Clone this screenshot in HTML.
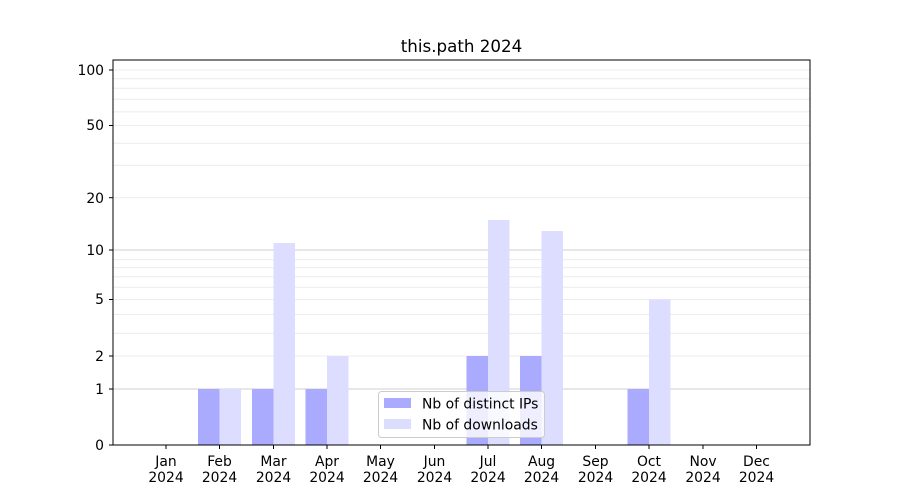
<!DOCTYPE html>
<html><head><meta charset="utf-8"><style>
html,body{margin:0;padding:0;background:#fff;}
svg{display:block;font-family:"DejaVu Sans","Liberation Sans",sans-serif;}
</style></head><body>
<svg width="900" height="500" viewBox="0 0 900 500" xmlns="http://www.w3.org/2000/svg">
<rect width="900" height="500" fill="#fff"/>
<g stroke-width="1">
<g stroke="#ececec">
<line x1="113" x2="810" y1="333.4" y2="333.4"/>
<line x1="113" x2="810" y1="314.5" y2="314.5"/>
<line x1="113" x2="810" y1="299.5" y2="299.5"/>
<line x1="113" x2="810" y1="287.3" y2="287.3"/>
<line x1="113" x2="810" y1="276.8" y2="276.8"/>
<line x1="113" x2="810" y1="267.6" y2="267.6"/>
<line x1="113" x2="810" y1="259.6" y2="259.6"/>
<line x1="113" x2="810" y1="197.7" y2="197.7"/>
<line x1="113" x2="810" y1="165.4" y2="165.4"/>
<line x1="113" x2="810" y1="143.2" y2="143.2"/>
<line x1="113" x2="810" y1="125.5" y2="125.5"/>
<line x1="113" x2="810" y1="111.9" y2="111.9"/>
<line x1="113" x2="810" y1="99.3" y2="99.3"/>
<line x1="113" x2="810" y1="88.3" y2="88.3"/>
<line x1="113" x2="810" y1="78.7" y2="78.7"/>
<line x1="113" x2="810" y1="356" y2="356"/>
<line x1="113" x2="810" y1="70" y2="70"/>
</g>
<g stroke="#cfcfcf">
<line x1="113" x2="810" y1="389" y2="389"/>
<line x1="113" x2="810" y1="250" y2="250"/>
</g>
</g>
<g fill="#aaaaff">
<rect x="198" y="389" width="21.5" height="56"/>
<rect x="252" y="389" width="21.5" height="56"/>
<rect x="305.5" y="389" width="21.5" height="56"/>
<rect x="466.5" y="356" width="21.5" height="89"/>
<rect x="520" y="356" width="21.5" height="89"/>
<rect x="627.5" y="389" width="21.5" height="56"/>
</g>
<g fill="#ddddff">
<rect x="219.5" y="389" width="21.5" height="56"/>
<rect x="273.5" y="243" width="21.5" height="202"/>
<rect x="327" y="356" width="21.5" height="89"/>
<rect x="488" y="220" width="21.5" height="225"/>
<rect x="541.5" y="231" width="21.5" height="214"/>
<rect x="649" y="299.5" width="21.5" height="145.5"/>
</g>
<rect x="113" y="60" width="697" height="385" fill="none" stroke="#000" stroke-width="1"/>
<g stroke="#000">
<line x1="109" x2="113" y1="445" y2="445"/>
<line x1="109" x2="113" y1="389" y2="389"/>
<line x1="109" x2="113" y1="356" y2="356"/>
<line x1="109" x2="113" y1="299.5" y2="299.5"/>
<line x1="109" x2="113" y1="250" y2="250"/>
<line x1="109" x2="113" y1="197.7" y2="197.7"/>
<line x1="109" x2="113" y1="125.5" y2="125.5"/>
<line x1="109" x2="113" y1="70" y2="70"/>
</g>
<g font-size="13.9" text-anchor="end" fill="#000">
<text x="104" y="450">0</text>
<text x="104" y="394">1</text>
<text x="104" y="361">2</text>
<text x="104" y="304">5</text>
<text x="104" y="255">10</text>
<text x="104" y="203">20</text>
<text x="104" y="130">50</text>
<text x="104" y="75">100</text>
</g>
<g stroke="#000">
<line x1="166" x2="166" y1="445" y2="449"/><line x1="219.5" x2="219.5" y1="445" y2="449"/>
<line x1="273.5" x2="273.5" y1="445" y2="449"/><line x1="327" x2="327" y1="445" y2="449"/>
<line x1="380.5" x2="380.5" y1="445" y2="449"/><line x1="434.5" x2="434.5" y1="445" y2="449"/>
<line x1="488" x2="488" y1="445" y2="449"/><line x1="541.5" x2="541.5" y1="445" y2="449"/>
<line x1="595.5" x2="595.5" y1="445" y2="449"/><line x1="649" x2="649" y1="445" y2="449"/>
<line x1="703" x2="703" y1="445" y2="449"/><line x1="756.5" x2="756.5" y1="445" y2="449"/>
</g>
<g font-size="13.9" text-anchor="middle" fill="#000">
<text x="166" y="466">Jan</text><text x="166" y="482">2024</text>
<text x="219.5" y="466">Feb</text><text x="219.5" y="482">2024</text>
<text x="273.5" y="466">Mar</text><text x="273.5" y="482">2024</text>
<text x="327" y="466">Apr</text><text x="327" y="482">2024</text>
<text x="380.5" y="466">May</text><text x="380.5" y="482">2024</text>
<text x="434.5" y="466">Jun</text><text x="434.5" y="482">2024</text>
<text x="488" y="466">Jul</text><text x="488" y="482">2024</text>
<text x="541.5" y="466">Aug</text><text x="541.5" y="482">2024</text>
<text x="595.5" y="466">Sep</text><text x="595.5" y="482">2024</text>
<text x="649" y="466">Oct</text><text x="649" y="482">2024</text>
<text x="703" y="466">Nov</text><text x="703" y="482">2024</text>
<text x="756.5" y="466">Dec</text><text x="756.5" y="482">2024</text>
</g>
<text x="461.5" y="52" font-size="16.7" text-anchor="middle">this.path 2024</text>
<rect x="378.5" y="391.5" width="166" height="46" rx="3" fill="#fff" fill-opacity="0.8" stroke="#ccc"/>
<rect x="384" y="398" width="27" height="10" fill="#aaaaff"/>
<rect x="384" y="419" width="27" height="10" fill="#ddddff"/>
<g font-size="13.9" fill="#000">
<text x="422" y="408.5">Nb of distinct IPs</text>
<text x="422" y="429.5">Nb of downloads</text>
</g>
</svg>
</body></html>
